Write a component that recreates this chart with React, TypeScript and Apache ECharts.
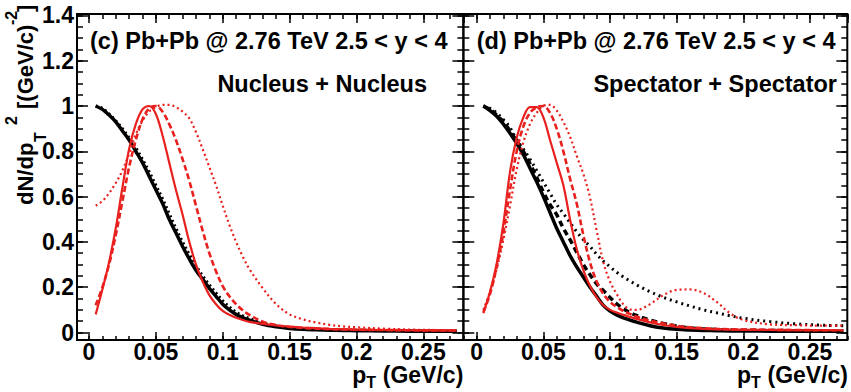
import React, { useEffect, useRef } from "react";
import * as echarts from "echarts";

// shared pT sampling (GeV/c)
const X = [
  0.005, 0.01, 0.015, 0.02, 0.025, 0.03, 0.035, 0.04, 0.045, 0.05,
  0.055, 0.06, 0.065, 0.07, 0.075, 0.08, 0.085, 0.09, 0.095, 0.1,
  0.105, 0.11, 0.115, 0.12, 0.13, 0.14, 0.15, 0.16, 0.17, 0.18,
  0.19, 0.2, 0.22, 0.24, 0.26, 0.275,
];

// (c) Nucleus + Nucleus
const L_BLACK_SOLID = [
  1.0, 0.985, 0.96, 0.93, 0.89, 0.85, 0.8, 0.75, 0.69, 0.63,
  0.57, 0.5, 0.44, 0.38, 0.325, 0.275, 0.235, 0.195, 0.16, 0.125,
  0.1, 0.08, 0.066, 0.055, 0.036, 0.025, 0.018, 0.014, 0.012, 0.01,
  0.009, 0.008, 0.007, 0.006, 0.006, 0.005,
];
const L_BLACK_DOTTED = [
  1.0, 0.99, 0.965, 0.935, 0.9, 0.86, 0.815, 0.765, 0.71, 0.65,
  0.59, 0.525, 0.46, 0.4, 0.345, 0.295, 0.25, 0.21, 0.175, 0.14,
  0.113, 0.09, 0.074, 0.062, 0.042, 0.03, 0.022, 0.017, 0.014, 0.012,
  0.011, 0.01, 0.009, 0.008, 0.007, 0.007,
];
const L_RED_SOLID = [
  0.08, 0.19, 0.31, 0.46, 0.64, 0.81, 0.92, 0.985, 1.0, 0.965,
  0.87, 0.75, 0.63, 0.52, 0.4, 0.3, 0.225, 0.165, 0.125, 0.095,
  0.078, 0.065, 0.055, 0.047, 0.038, 0.031, 0.026, 0.022, 0.019, 0.016,
  0.014, 0.013, 0.011, 0.01, 0.009, 0.009,
];
const L_RED_DASHED = [
  0.12, 0.2, 0.3, 0.43, 0.58, 0.73, 0.85, 0.94, 0.99, 1.0,
  0.975, 0.92, 0.85, 0.765, 0.67, 0.56, 0.45, 0.35, 0.27, 0.205,
  0.16, 0.125, 0.098, 0.078, 0.048, 0.033, 0.025, 0.02, 0.017, 0.015,
  0.013, 0.012, 0.011, 0.01, 0.009, 0.009,
];
const L_RED_DOTTED = [
  0.56, 0.58, 0.615, 0.66, 0.715, 0.79, 0.875, 0.935, 0.975, 0.995,
  1.005, 1.005, 0.995, 0.975, 0.945, 0.885, 0.81, 0.73, 0.65, 0.56,
  0.475, 0.4, 0.335, 0.28, 0.195, 0.125, 0.08, 0.058, 0.044, 0.034,
  0.027, 0.023, 0.017, 0.013, 0.011, 0.01,
];

// (d) Spectator + Spectator
const R_BLACK_SOLID = [
  1.0, 0.98, 0.955, 0.92, 0.88, 0.835, 0.785, 0.725, 0.665, 0.6,
  0.53, 0.46, 0.4, 0.34, 0.29, 0.245, 0.2, 0.16, 0.12, 0.095,
  0.078, 0.065, 0.055, 0.046, 0.03, 0.02, 0.014, 0.011, 0.009, 0.008,
  0.007, 0.007, 0.006, 0.006, 0.005, 0.005,
];
const R_BLACK_DASHED = [
  1.0, 0.985, 0.96, 0.93, 0.89, 0.845, 0.8, 0.745, 0.685, 0.62,
  0.565, 0.52, 0.46, 0.41, 0.355, 0.3, 0.255, 0.215, 0.185, 0.155,
  0.127, 0.105, 0.088, 0.075, 0.055, 0.04, 0.028, 0.02, 0.016, 0.013,
  0.011, 0.01, 0.009, 0.008, 0.008, 0.008,
];
const R_BLACK_DOTTED = [
  1.0, 0.99, 0.97, 0.94, 0.905, 0.85, 0.81, 0.765, 0.715, 0.665,
  0.615, 0.565, 0.525, 0.485, 0.445, 0.41, 0.38, 0.345, 0.315, 0.29,
  0.266, 0.245, 0.227, 0.21, 0.18, 0.155, 0.135, 0.117, 0.1, 0.087,
  0.074, 0.063, 0.048, 0.038, 0.032, 0.03,
];
const R_RED_SOLID = [
  0.085, 0.18, 0.305, 0.48, 0.71, 0.86, 0.95, 0.995, 0.995, 0.95,
  0.85, 0.75, 0.65, 0.5, 0.37, 0.275, 0.205, 0.155, 0.12, 0.1,
  0.088, 0.078, 0.069, 0.06, 0.045, 0.033, 0.025, 0.019, 0.016, 0.014,
  0.013, 0.012, 0.011, 0.01, 0.01, 0.01,
];
const R_RED_DASHED = [
  0.09, 0.17, 0.29, 0.44, 0.63, 0.8, 0.91, 0.97, 0.995, 1.0,
  0.97, 0.9, 0.8, 0.68, 0.57, 0.43, 0.31, 0.225, 0.17, 0.135,
  0.113, 0.095, 0.082, 0.07, 0.052, 0.04, 0.03, 0.023, 0.019, 0.016,
  0.014, 0.013, 0.012, 0.011, 0.01, 0.01,
];
const R_RED_DOTTED = [
  0.1, 0.18, 0.28, 0.41, 0.56, 0.72, 0.84, 0.92, 0.97, 1.0,
  1.005, 0.98, 0.93, 0.865, 0.78, 0.7, 0.595, 0.45, 0.31, 0.225,
  0.17, 0.125, 0.102, 0.1, 0.125, 0.165, 0.188, 0.19, 0.175, 0.135,
  0.085, 0.055, 0.036, 0.032, 0.03, 0.03,
];

const X_MAX_LEFT = 0.28;
const X_MAX_RIGHT = 0.278;
const Y_MAX = 1.4;
const X_MAJOR = 0.05;
const X_MINOR = 0.01;
const Y_MAJOR = 0.2;
const Y_MINOR = 0.05;

const FONT = '"Liberation Sans", Arial, Helvetica, sans-serif';

const pts = (ys: number[]) => X.map((x, i) => [x, ys[i]]);

const tickStyle = { color: "#000", width: 1.5 };

const labelStyle = {
  margin: 2,
  fontSize: 23,
  lineHeight: 19,
  fontWeight: "bold",
  fontFamily: FONT,
  color: "#000",
};

// one grid -> [bottom, top] x axes
function xAxesFor(
  grid: number,
  max: number,
  interval: number,
  lenBottom: number,
  lenTop: number,
  labels: boolean
) {
  const base = {
    type: "value",
    gridIndex: grid,
    min: 0,
    max,
    interval,
    axisLine: { show: false, onZero: false },
    splitLine: { show: false },
  };
  return [
    {
      ...base,
      position: "bottom",
      offset: 7.5,
      axisTick: { inside: true, length: lenBottom, lineStyle: tickStyle },
      axisLabel: labels
        ? { ...labelStyle, show: true, showMaxLabel: false, showMinLabel: true }
        : { show: false },
    },
    {
      ...base,
      position: "top",
      offset: 1.4,
      axisTick: { inside: true, length: lenTop, lineStyle: tickStyle },
      axisLabel: { show: false },
    },
  ];
}

// one grid -> [left, right] y axes
function yAxesFor(
  grid: number,
  interval: number,
  len: number,
  leftOffset: number,
  labels: boolean
) {
  const base = {
    type: "value",
    gridIndex: grid,
    min: 0,
    max: Y_MAX,
    interval,
    axisLine: { show: false, onZero: false },
    splitLine: { show: false },
  };
  return [
    {
      ...base,
      position: "left",
      offset: leftOffset,
      axisTick: { inside: true, length: len, lineStyle: tickStyle },
      axisLabel: labels ? { ...labelStyle, margin: 3, show: true } : { show: false },
    },
    {
      ...base,
      position: "right",
      offset: 0,
      axisTick: { inside: true, length: len, lineStyle: tickStyle },
      axisLabel: { show: false },
    },
  ];
}

function line(
  ys: number[],
  panel: number,
  color: string,
  width: number,
  type: any,
  z: number
) {
  // panel 0 -> grid 0 (axes 0), panel 1 -> grid 2 (axes 4)
  return {
    type: "line",
    xAxisIndex: panel * 4,
    yAxisIndex: panel * 4,
    data: pts(ys),
    symbol: "none",
    showSymbol: false,
    smooth: 0.35,
    clip: true,
    silent: true,
    z,
    lineStyle: { color, width, type, cap: "butt" },
  };
}

function txt(
  text: string,
  x: number,
  y: number,
  size: number,
  align: string
) {
  return {
    type: "text",
    x,
    y,
    z: 110,
    style: {
      text,
      font: `bold ${size}px ${FONT}`,
      fill: "#000",
      lineHeight: Math.round(size * 0.85),
      textAlign: align,
      textVerticalAlign: "middle",
      align,
      verticalAlign: "middle",
    },
  };
}

function xTitle(right: number) {
  return [
    txt("(GeV/c)", right, 375, 23, "right"),
    txt("T", right - 97, 382.5, 16, "left"),
    txt("p", right - 97, 375, 23, "right"),
  ];
}

export default function App() {
  const ref = useRef<HTMLDivElement>(null);

  useEffect(() => {
    if (!ref.current) return;
    const chart = echarts.init(ref.current, null, { renderer: "svg" });

    const yTitle = {
      type: "group",
      x: 33,
      y: 205,
      rotation: Math.PI / 2,
      z: 110,
      children: [
        txt("dN/dp", 0, -8, 22, "left"),
        txt("T", 63, 7, 16, "left"),
        txt("2", 80, -22, 16, "left"),
        txt("[(GeV/c)", 96, -8, 22, "left"),
        txt("-2", 180, -22, 16, "left"),
        txt("]", 193, -8, 22, "left"),
      ],
    };

    const gl = { left: 89, top: 15.4, width: 374.4, height: 317.1, containLabel: false };
    const gr = { left: 476.7, top: 15.4, width: 370.6, height: 317.1, containLabel: false };

    const option: any = {
      animation: false,
      backgroundColor: "#fff",
      grid: [gl, { ...gl }, gr, { ...gr }],
      xAxis: [
        ...xAxesFor(0, X_MAX_LEFT, X_MAJOR, 8, 9, true),
        ...xAxesFor(1, X_MAX_LEFT, X_MINOR, 4, 5, false),
        ...xAxesFor(2, X_MAX_RIGHT, X_MAJOR, 8, 9, true),
        ...xAxesFor(3, X_MAX_RIGHT, X_MINOR, 4, 5, false),
      ],
      yAxis: [
        ...yAxesFor(0, Y_MAJOR, 11, 12, true),
        ...yAxesFor(1, Y_MINOR, 6, 12, false),
        ...yAxesFor(2, Y_MAJOR, 11, 13.4, false),
        ...yAxesFor(3, Y_MINOR, 6, 13.4, false),
      ],
      series: [
        line(L_BLACK_SOLID, 0, "#000", 3.5, "solid", 2),
        line(L_BLACK_DOTTED, 0, "#000", 3, [2, 3], 2),
        line(L_RED_SOLID, 0, "#e8201e", 2.2, "solid", 3),
        line(L_RED_DASHED, 0, "#e8201e", 2.6, [6, 3], 3),
        line(L_RED_DOTTED, 0, "#e8201e", 2.2, [2, 3], 3),
        line(R_BLACK_SOLID, 1, "#000", 3.5, "solid", 2),
        line(R_BLACK_DASHED, 1, "#000", 3.5, [6, 4], 2),
        line(R_BLACK_DOTTED, 1, "#000", 3, [2, 4], 2),
        line(R_RED_SOLID, 1, "#e8201e", 2.2, "solid", 3),
        line(R_RED_DASHED, 1, "#e8201e", 2.6, [6, 3], 3),
        line(R_RED_DOTTED, 1, "#e8201e", 2.2, [2, 3], 3),
      ],
      graphic: {
        elements: [
          {
            type: "rect",
            z: 100,
            shape: { x: 77, y: 14, width: 386.4, height: 326 },
            style: { fill: "none", stroke: "#000", lineWidth: 2 },
          },
          {
            type: "rect",
            z: 100,
            shape: { x: 463.4, y: 14, width: 383.9, height: 326 },
            style: { fill: "none", stroke: "#000", lineWidth: 2 },
          },
          txt("(c) Pb+Pb @ 2.76 TeV 2.5 < y < 4", 90, 41.3, 23.5, "left"),
          txt("Nucleus + Nucleus", 427, 84, 23.5, "right"),
          txt("(d) Pb+Pb @ 2.76 TeV 2.5 < y < 4", 476.7, 41.3, 23.5, "left"),
          txt("Spectator + Spectator", 837, 84, 23.5, "right"),
          ...xTitle(463.3),
          ...xTitle(848),
          yTitle,
        ],
      },
    };

    chart.setOption(option);
    return () => chart.dispose();
  }, []);

  return (
    <div
      ref={ref}
      style={{ position: "absolute", left: 0, top: 0, width: 851, height: 392 }}
    />
  );
}
